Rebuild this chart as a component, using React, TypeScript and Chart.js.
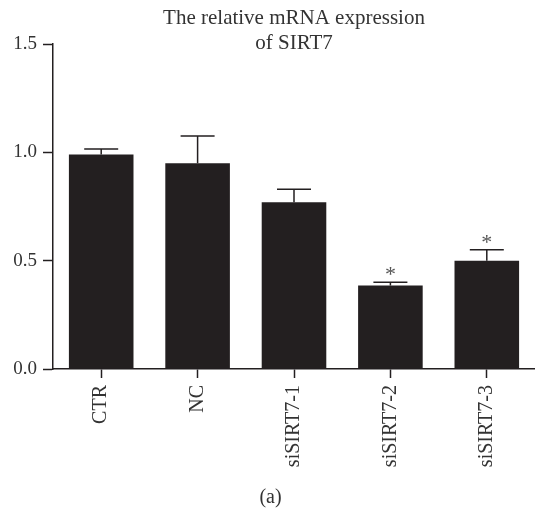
import React, { useEffect, useRef } from "react";
import { Chart, registerables } from "chart.js";

Chart.register(...registerables);

const categories = ["CTR", "NC", "siSIRT7-1", "siSIRT7-2", "siSIRT7-3"];
const means = [0.99, 0.95, 0.77, 0.385, 0.50];
const errorsUp = [0.025, 0.125, 0.06, 0.015, 0.05];
const significant = [false, false, false, true, true];
const yTicks = [0, 0.5, 1.0, 1.5];
const titleLines = ["The relative mRNA expression", "of SIRT7"];
const panelLabel = "(a)";

const INK = "#231f20";
const FONT = "'Liberation Serif', 'DejaVu Serif', serif";

const overlayPlugin = {
  id: "overlay",
  afterDatasetsDraw(chart: any) {
    const { ctx, chartArea, scales } = chart;
    const xs = scales.x;
    const ys = scales.y;
    ctx.save();
    ctx.strokeStyle = INK;
    ctx.fillStyle = INK;
    ctx.lineWidth = 1.5;
    means.forEach((m, i) => {
      const cx = xs.getPixelForValue(i);
      const yTop = ys.getPixelForValue(m);
      const yErr = ys.getPixelForValue(m + errorsUp[i]);
      ctx.beginPath();
      ctx.moveTo(cx, yTop);
      ctx.lineTo(cx, yErr);
      ctx.moveTo(cx - 17, yErr);
      ctx.lineTo(cx + 17, yErr);
      ctx.stroke();
      if (significant[i]) {
        ctx.font = `22px ${FONT}`;
        ctx.textAlign = "center";
        ctx.textBaseline = "alphabetic";
        ctx.fillStyle = "#555";
        ctx.fillText("*", cx, yErr - 1);
        ctx.fillStyle = INK;
      }
    });
    // title
    ctx.font = `21px ${FONT}`;
    ctx.textAlign = "center";
    ctx.textBaseline = "alphabetic";
    ctx.fillStyle = "#333";
    const tcx = (chartArea.left + chartArea.right) / 2;
    ctx.fillText(titleLines[0], tcx, 24);
    ctx.fillText(titleLines[1], tcx, 49);
    // panel label
    ctx.font = `20px ${FONT}`;
    ctx.fillText(panelLabel, chart.width / 2 + 3, 503);
    ctx.restore();
  },
};

export default function App() {
  const ref = useRef<HTMLCanvasElement>(null);
  useEffect(() => {
    if (!ref.current) return;
    const chart = new Chart(ref.current, {
      type: "bar",
      data: {
        labels: categories,
        datasets: [
          {
            data: means,
            backgroundColor: INK,
            borderWidth: 0,
            categoryPercentage: 1,
            barPercentage: 0.67,
          },
        ],
      },
      plugins: [overlayPlugin],
      options: {
        animation: false,
        responsive: false,
        maintainAspectRatio: false,
        layout: { padding: { top: 44, right: 0, left: 0, bottom: 0 } },
        plugins: {
          legend: { display: false },
          title: { display: false },
          tooltip: { enabled: false },
        },
        scales: {
          x: {
            grid: {
              offset: false,
              drawOnChartArea: false,
              drawTicks: true,
              tickLength: 9,
              tickWidth: 1.5,
              tickColor: INK,
            },
            border: { display: true, color: INK, width: 1.5 },
            ticks: {
              color: "#333",
              font: { family: FONT, size: 20 },
              minRotation: 90,
              maxRotation: 90,
              padding: 7,
            },
            afterFit(scale: any) {
              scale.height = 144;
            },
          },
          y: {
            min: 0,
            max: 1.5,
            afterBuildTicks(scale: any) {
              scale.ticks = yTicks.map((v) => ({ value: v }));
            },
            grid: {
              drawOnChartArea: false,
              drawTicks: true,
              tickLength: 10,
              tickWidth: 1.5,
              tickColor: INK,
            },
            border: { display: true, color: INK, width: 1.5 },
            ticks: {
              color: "#333",
              font: { family: FONT, size: 19 },
              padding: 6,
              callback: (v: any) => Number(v).toFixed(1),
            },
            afterFit(scale: any) {
              scale.width = 53;
            },
          },
        },
      },
    });
    return () => chart.destroy();
  }, []);
  return (
    <div style={{ position: "absolute", left: 0, top: 0, width: 535, height: 513, background: "#fff" }}>
      <canvas ref={ref} width={535} height={513} style={{ width: 535, height: 513 }} />
    </div>
  );
}
